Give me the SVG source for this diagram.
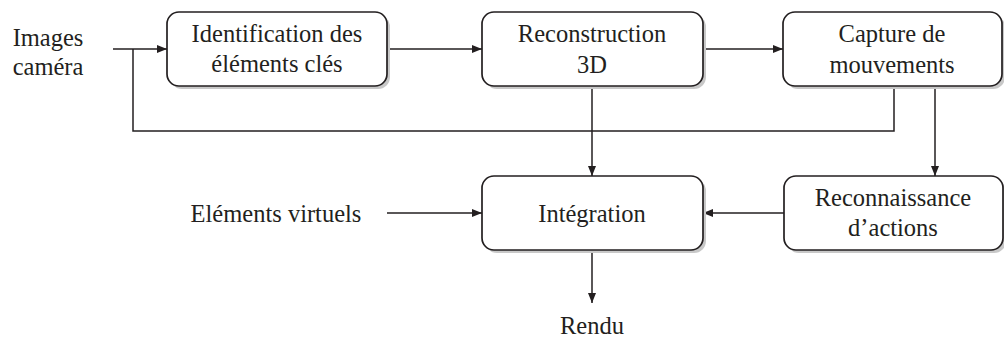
<svg xmlns="http://www.w3.org/2000/svg" width="1004" height="341" viewBox="0 0 1004 341">
<defs>
<style>
.box{fill:#fff;stroke:#231f20;stroke-width:1.7}
.sh{fill:#c8c8c8}
.t{font-family:'Liberation Serif','DejaVu Serif',serif;font-size:24.5px;fill:#231f20;text-anchor:middle}
.ln{fill:none;stroke:#231f20;stroke-width:1.5}
</style>
<marker id="ah" viewBox="0 0 10 8" refX="10" refY="4" markerWidth="10" markerHeight="8" markerUnits="userSpaceOnUse" orient="auto">
<path d="M0,0 L10,4 L0,8 Z" fill="#231f20"/>
</marker>
</defs>
<g id="connectors">
<line class="ln" x1="113" y1="49" x2="167" y2="49" marker-end="url(#ah)"/>
<polyline class="ln" points="133,49 133,131 894,131 894,86"/>
<line class="ln" x1="387" y1="49" x2="482" y2="49" marker-end="url(#ah)"/>
<line class="ln" x1="703" y1="49" x2="783" y2="49" marker-end="url(#ah)"/>
<line class="ln" x1="592" y1="86" x2="592" y2="176" marker-end="url(#ah)"/>
<line class="ln" x1="935" y1="86" x2="935" y2="176" marker-end="url(#ah)"/>
<line class="ln" x1="784" y1="213" x2="703" y2="213" marker-end="url(#ah)"/>
<line class="ln" x1="387" y1="213" x2="482" y2="213" marker-end="url(#ah)"/>
<line class="ln" x1="592" y1="250" x2="592" y2="303" marker-end="url(#ah)"/>
</g>
<g id="images-camera">
<text class="t" x="48" y="46">Images</text>
<text class="t" x="48" y="75">caméra</text>
</g>
<g id="identification">
<rect class="sh" x="170" y="15" width="220" height="74" rx="12"/>
<rect class="box" x="167" y="12" width="220" height="74" rx="12"/>
<text class="t" x="277" y="42">Identification des</text>
<text class="t" x="277" y="72">éléments clés</text>
</g>
<g id="reconstruction">
<rect class="sh" x="485" y="15" width="221" height="74" rx="12"/>
<rect class="box" x="482" y="12" width="221" height="74" rx="12"/>
<text class="t" x="592" y="42">Reconstruction</text>
<text class="t" x="592" y="73">3D</text>
</g>
<g id="capture">
<rect class="sh" x="786" y="15" width="219" height="74" rx="12"/>
<rect class="box" x="783" y="12" width="219" height="74" rx="12"/>
<text class="t" x="892" y="42">Capture de</text>
<text class="t" x="892" y="73">mouvements</text>
</g>
<g id="elements-virtuels">
<text class="t" x="276" y="222">Eléments virtuels</text>
</g>
<g id="integration">
<rect class="sh" x="485" y="179" width="221" height="74" rx="12"/>
<rect class="box" x="482" y="176" width="221" height="74" rx="12"/>
<text class="t" x="592" y="222">Intégration</text>
</g>
<g id="reconnaissance">
<rect class="sh" x="787" y="179" width="219" height="74" rx="12"/>
<rect class="box" x="784" y="176" width="219" height="74" rx="12"/>
<text class="t" x="893" y="206">Reconnaissance</text>
<text class="t" x="893" y="236">d’actions</text>
</g>
<g id="rendu">
<text class="t" x="592" y="334">Rendu</text>
</g>
</svg>
